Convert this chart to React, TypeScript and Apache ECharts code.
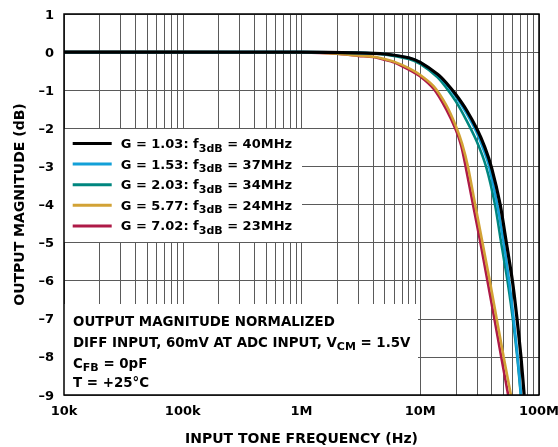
import React, { useEffect, useRef } from "react";
import * as echarts from "echarts";

const FONT = "'DejaVu Sans', 'Liberation Sans', Arial, sans-serif";

const SERIES_NAMES = ["G = 1.03", "G = 1.53", "G = 2.03", "G = 5.77", "G = 7.02"];
const GAINS = ["1.03", "1.53", "2.03", "5.77", "7.02"];
const F3DB = ["40MHz", "37MHz", "34MHz", "24MHz", "23MHz"];
const COLORS = ["#000000", "#13a0d8", "#00867f", "#d2a235", "#ae1a47"];
const WIDTHS = [3.2, 2.6, 2.6, 2.6, 2.6];

// frequency (Hz) / magnitude (dB) readings per curve
const FREQ_G103 = [1e4, 1e5, 1e6, 3e6, 5e6, 8e6, 10e6, 14e6, 16.6e6, 20e6, 24.5e6, 30e6, 35e6, 40e6, 47.1e6, 53.1e6, 59.7e6, 65.3e6, 70.5e6, 75e6];
const DB_G103 = [0, 0, 0, -0.02, -0.05, -0.15, -0.27, -0.58, -0.81, -1.12, -1.52, -2.02, -2.5, -3.05, -4, -5, -6, -7, -8, -9];

const FREQ_G153 = [1e4, 1e5, 1e6, 3e6, 5e6, 8e6, 10e6, 14e6, 16.6e6, 20e6, 24.5e6, 30e6, 35e6, 38e6, 44.5e6, 50.4e6, 56e6, 61.2e6, 66e6, 70.5e6];
const DB_G153 = [0, 0, 0, -0.02, -0.05, -0.15, -0.27, -0.6, -0.84, -1.17, -1.6, -2.12, -2.65, -3.0, -4, -5, -6, -7, -8, -9];

const FREQ_G203 = [1e4, 1e5, 1e6, 3e6, 5e6, 8e6, 10e6, 14e6, 16.6e6, 20e6, 24.5e6, 30e6, 35.8e6, 42.6e6, 48e6, 54.3e6, 60.2e6, 65.6e6, 70.3e6];
const DB_G203 = [0, 0, 0, -0.02, -0.06, -0.18, -0.31, -0.66, -0.94, -1.3, -1.79, -2.35, -3.0, -4, -5, -6, -7, -8, -9];

const FREQ_G577 = [1e4, 1e5, 1e6, 2e6, 3e6, 4e6, 5e6, 6e6, 8e6, 10e6, 13e6, 16.6e6, 20e6, 22.5e6, 25.2e6, 29e6, 33.4e6, 38.5e6, 44e6, 50.4e6, 58e6];
const DB_G577 = [0, 0, -0.01, -0.04, -0.09, -0.12, -0.18, -0.25, -0.42, -0.6, -0.9, -1.4, -1.95, -2.4, -3.0, -4, -5, -6, -7, -8, -9];

const FREQ_G702 = [1e4, 1e5, 1e6, 2e6, 3e6, 4e6, 5e6, 6e6, 8e6, 10e6, 13e6, 16.6e6, 20e6, 22.1e6, 24.1e6, 27.8e6, 32.1e6, 36.8e6, 42.1e6, 48.1e6, 55e6];
const DB_G702 = [0, 0, -0.01, -0.04, -0.1, -0.13, -0.2, -0.27, -0.46, -0.64, -0.97, -1.51, -2.05, -2.45, -3.0, -4, -5, -6, -7, -8, -9];

const FREQS = [FREQ_G103, FREQ_G153, FREQ_G203, FREQ_G577, FREQ_G702];
const DBS = [DB_G103, DB_G153, DB_G203, DB_G577, DB_G702];

const X_TICK_VALUES = [1e4, 1e5, 1e6, 1e7, 1e8];
const X_TICK_LABELS = ["10k", "100k", "1M", "10M", "100M"];
const Y_TICK_VALUES = [1, 0, -1, -2, -3, -4, -5, -6, -7, -8, -9];
const Y_TICK_LABELS = ["1", "0", "\u20131", "\u20132", "\u20133", "\u20134", "\u20135", "\u20136", "\u20137", "\u20138", "\u20139"];

const MINOR_MULTS = [2, 3, 4, 5, 6, 7, 8, 9];
const DECADES = [1e4, 1e5, 1e6, 1e7];

const NOTE_LINES = [
  "{n|OUTPUT MAGNITUDE NORMALIZED}",
  "{n|DIFF INPUT, 60mV AT ADC INPUT, V}{ns|CM}{n| = 1.5V}",
  "{n|C}{ns|FB}{n| = 0pF}",
  "{n|T = +25\u00b0C}",
];

export default function App() {
  const ref = useRef<HTMLDivElement>(null);
  useEffect(() => {
    if (!ref.current) return;
    const chart = echarts.init(ref.current, null, { renderer: "svg" });
    const minor: number[] = [];
    DECADES.forEach((d) => MINOR_MULTS.forEach((m) => minor.push(d * m)));

    const rich = {
      t: { fontFamily: FONT, fontWeight: "bold", fontSize: 13, color: "#000", lineHeight: 20, verticalAlign: "middle" },
      s: { fontFamily: FONT, fontWeight: "bold", fontSize: 11, color: "#000", lineHeight: 11, verticalAlign: "bottom" },
      n: { fontFamily: FONT, fontWeight: "bold", fontSize: 13.4, color: "#000", lineHeight: 20, verticalAlign: "middle" },
      ns: { fontFamily: FONT, fontWeight: "bold", fontSize: 11, color: "#000", lineHeight: 11, verticalAlign: "bottom" },
    };

    const order = [4, 3, 2, 1, 0];
    const series: any[] = order.map((i, k) => ({
      type: "line",
      name: SERIES_NAMES[i],
      data: FREQS[i].map((f, j) => [f, DBS[i][j]]),
      showSymbol: false,
      smooth: 0.25,
      color: COLORS[i],
      lineStyle: { color: COLORS[i], width: WIDTHS[i] },
      z: 2,
      silent: true,
      clip: true,
      markLine:
        k === 0
          ? {
              silent: true,
              symbol: ["none", "none"],
              label: { show: false },
              lineStyle: { color: "#5a5a5a", width: 1, type: "solid" },
              z: 1,
              animation: false,
              data: minor.map((v) => ({ xAxis: v })),
            }
          : undefined,
    }));

    const graphics: any[] = [
      { type: "rect", z: 3, shape: { x: 64, y: 129, width: 238, height: 113 }, style: { fill: "#fff" }, silent: true },
      { type: "rect", z: 3, shape: { x: 64, y: 304, width: 354, height: 91 }, style: { fill: "#fff" }, silent: true },
    ];
    const noteY = [321, 342, 363, 382];
    NOTE_LINES.forEach((line, i) => {
      graphics.push({
        type: "text",
        z: 5,
        x: 73,
        y: noteY[i],
        style: { text: line, rich, align: "left", verticalAlign: "middle", fill: "#000" },
        silent: true,
      });
    });

    const axisFont = { fontFamily: FONT, fontWeight: "bold", fontSize: 13, color: "#000" };
    const titleFont = { fontFamily: FONT, fontWeight: "bold", fontSize: 14, color: "#000" };

    chart.setOption({
      animation: false,
      grid: {
        left: 64, right: 19, top: 14, bottom: 52,
        outerBoundsMode: "none", containLabel: false,
        show: true, z: 10, borderColor: "#000", borderWidth: 1.5, backgroundColor: "transparent",
      },
      xAxis: {
        type: "log",
        logBase: 10,
        min: 1e4,
        max: 1e8,
        axisLine: { show: false },
        axisTick: { show: false },
        splitLine: { show: true, lineStyle: { color: "#5a5a5a", width: 1 } },
        axisLabel: {
          margin: 9,
          ...axisFont,
          formatter: (v: number) => {
            const i = X_TICK_VALUES.findIndex((t) => Math.abs(Math.log10(t) - Math.log10(v)) < 1e-6);
            return i >= 0 ? X_TICK_LABELS[i] : "";
          },
        },
        name: "INPUT TONE FREQUENCY (Hz)",
        nameLocation: "middle",
        nameGap: 36,
        nameTextStyle: titleFont,
      },
      yAxis: {
        type: "value",
        min: -9,
        max: 1,
        interval: 1,
        axisLine: { show: false },
        axisTick: { show: false },
        splitLine: { show: true, lineStyle: { color: "#5a5a5a", width: 1 } },
        axisLabel: {
          margin: 10,
          ...axisFont,
          formatter: (v: number) => {
            const i = Y_TICK_VALUES.indexOf(Math.round(v));
            return i >= 0 ? Y_TICK_LABELS[i] : "";
          },
        },
        name: "OUTPUT MAGNITUDE (dB)",
        nameLocation: "middle",
        nameGap: 38,
        nameTextStyle: titleFont,
      },
      legend: {
        show: true,
        orient: "vertical",
        left: 72.7,
        top: 137,
        padding: 0,
        itemGap: 4.1,
        itemWidth: 39,
        itemHeight: 3,
        icon: "rect",
        selectedMode: false,
        z: 6,
        data: SERIES_NAMES,
        formatter: (name: string) => {
          const i = SERIES_NAMES.indexOf(name);
          return `{t|G = ${GAINS[i]}: f}{s|3dB}{t| = ${F3DB[i]}}`;
        },
        textStyle: { padding: [0, 0, 0, 4], rich },
      },
      graphic: graphics,
      series,
    });
    return () => chart.dispose();
  }, []);
  return <div ref={ref} style={{ position: "fixed", left: 0, top: 0, width: 558, height: 447 }} />;
}
